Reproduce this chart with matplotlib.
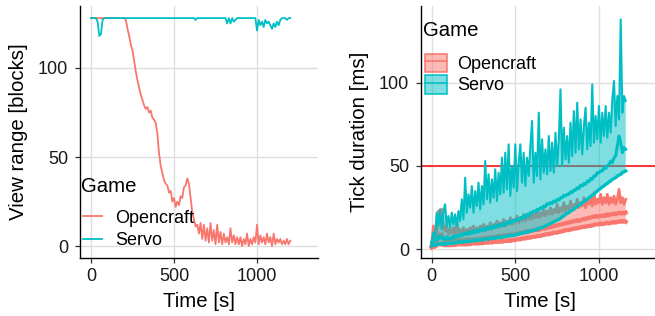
import numpy as np
import matplotlib
matplotlib.use("Agg")
import matplotlib.pyplot as plt
from matplotlib.lines import Line2D
from matplotlib.patches import Patch

plt.rcParams['font.family'] = ['Liberation Sans', 'DejaVu Sans']

games = ['Opencraft', 'Servo']
game_colors = ['#F8766D', '#00BFC4']

# ---------------- left panel: view range ----------------
time_left = np.arange(0, 1201, 10)
view_opencraft = [
    128, 128, 128, 128, 128, 128, 128, 128, 128, 128,
    128, 128, 128, 128, 128, 128, 128, 128, 128, 128,
    128, 127, 122, 118, 113, 110, 104, 98, 93, 89,
    85, 82, 79, 77, 78, 75, 76, 72, 71, 69,
    63, 52, 45, 41, 37, 35, 34, 30, 31, 25,
    27, 22, 25, 23, 28, 27, 33, 34, 38, 35,
    27, 19, 15, 11, 12, 7, 13, 4, 12, 3,
    10, 2, 13, 3, 9, 1, 12, 2, 8, 1,
    7, 2, 5, 1, 10, 2, 6, 1, 5, 1,
    5, 0, 4, 1, 7, 0, 4, 1, 5, 2,
    12, 1, 6, 2, 5, 1, 7, 2, 5, 0,
    7, 1, 4, 2, 4, 1, 3, 1, 4, 1,
    3,
]
view_servo = [
    128, 128, 128, 128, 126, 118, 119, 127, 128, 128,
    128, 128, 128, 128, 128, 128, 128, 128, 128, 128,
    128, 128, 128, 128, 128, 128, 128, 128, 128, 128,
    128, 128, 128, 128, 128, 128, 128, 128, 128, 128,
    128, 128, 128, 128, 128, 128, 128, 128, 128, 128,
    128, 128, 128, 128, 128, 128, 128, 128, 128, 128,
    128, 128, 128, 127, 128, 128, 128, 128, 128, 128,
    128, 128, 128, 128, 128, 128, 128, 128, 128, 128,
    128, 128, 125, 128, 125, 128, 126, 127, 128, 128,
    128, 128, 128, 128, 128, 128, 128, 128, 128, 128,
    121, 127, 124, 126, 123, 127, 125, 126, 124, 122,
    125, 123, 126, 124, 127, 128, 128, 128, 127, 128,
    128,
]

# ---------------- right panel: tick duration ----------------
time_right = np.arange(0, 1161, 10)
opencraft_low = [
    1, 2, 1.5, 2.5, 3, 3, 3, 2.5, 2.5, 2.5,
    2.5, 2.5, 2.5, 3, 2.5, 3, 3, 3, 3, 3,
    3, 3, 3.5, 3, 3.5, 3.5, 3.5, 3.5, 3.5, 4,
    3.5, 4, 4, 4, 4, 4.5, 4, 4.5, 4.5, 4.5,
    4.5, 5, 4.5, 5, 5, 5, 5.5, 5, 5.5, 5.5,
    5.5, 6, 6, 6, 6.5, 6.5, 6.5, 7, 7, 7,
    7.5, 7.5, 7.5, 8, 8, 8, 8.5, 8.5, 9, 9,
    9, 9.5, 9.5, 10, 10, 10, 10.5, 10.5, 11, 11,
    11.5, 11.5, 11.5, 12, 12, 12.5, 12.5, 12.5, 13, 13,
    13.5, 13.5, 13.5, 14, 14, 14, 14.5, 14.5, 15, 15,
    15, 15.5, 15, 15.5, 15.5, 16, 15.5, 16, 16, 16.5,
    16, 16.5, 16.5, 17, 16.5, 17, 16.5,
]
opencraft_median = [
    2, 5, 3, 6, 9, 8, 9, 6, 5, 5.5,
    4.5, 5, 4.5, 5, 4.5, 5.5, 5, 5.5, 5, 5.5,
    5.5, 6, 5.5, 6, 5.5, 6, 6, 6.5, 6, 6.5,
    6.5, 7, 6.5, 7, 7, 7.5, 7, 7.5, 7.5, 8,
    7.5, 8, 8, 8.5, 8, 8.5, 8.5, 9, 8.5, 9,
    9, 9.5, 9.5, 10, 10, 10.5, 10, 11, 10.5, 11,
    11, 11.5, 11.5, 12, 11.5, 12, 12.5, 12.5, 12.5, 13,
    13, 13.5, 13.5, 14, 14, 14.5, 14.5, 15, 15, 15.5,
    15.5, 16, 16, 16.5, 16.5, 17, 17, 17.5, 17, 17.5,
    18, 18, 18.5, 18.5, 19, 19, 19.5, 19.5, 20, 19.5,
    20, 20, 20, 20.5, 20, 21, 20.5, 21, 21, 21.5,
    21, 21.5, 22, 21.5, 22, 21.5, 22,
]
opencraft_high = [
    3, 14, 6, 12, 23, 18, 24, 15, 11, 14,
    9, 12, 10, 13, 9, 17, 10, 12, 9, 13,
    10, 12, 10, 13, 11, 14, 10, 13, 11, 14,
    12, 15, 11, 14, 12, 16, 12, 15, 13, 17,
    13, 16, 14, 18, 14, 17, 15, 19, 15, 18,
    16, 20, 16, 19, 17, 21, 17, 20, 18, 22,
    18, 21, 19, 23, 19, 22, 20, 24, 20, 23,
    21, 25, 21, 24, 22, 27, 22, 25, 23, 28,
    23, 26, 24, 29, 24, 27, 25, 30, 25, 28,
    26, 31, 25, 29, 27, 32, 26, 34, 27, 30,
    28, 33, 27, 31, 28, 33, 27, 31, 28, 32,
    27, 30, 36, 28, 31, 27, 30,
]
servo_low = [
    2, 2.5, 2.5, 3, 3, 3.5, 3, 3.5, 3, 3.5,
    3.5, 3.5, 4, 3.5, 4, 4, 4.5, 4, 4.5, 4.5,
    4.5, 5, 4.5, 5, 5, 5.5, 5, 5.5, 5.5, 6,
    5.5, 6, 6, 6.5, 6, 6.5, 6.5, 7, 6.5, 7,
    7, 7.5, 7, 7.5, 7.5, 8, 8, 8.5, 8, 8.5,
    8.5, 9, 9, 9.5, 9.5, 10, 10, 10.5, 10.5, 11,
    11, 11.5, 11.5, 12, 12.5, 13, 13, 13.5, 14, 14.5,
    15, 15.5, 16, 16.5, 17, 17.5, 18, 18.5, 19.5, 20,
    21, 21.5, 22, 23, 23.5, 24, 25, 25.5, 26.5, 27,
    28, 28.5, 29.5, 30, 31, 31.5, 32.5, 33, 34, 35,
    36, 36.5, 37.5, 38, 39, 39.5, 40.5, 41, 42, 42.5,
    43, 44, 44.5, 45, 46, 46.5, 47,
]
servo_median = [
    4, 5, 5.5, 7, 6, 8, 6.5, 7, 6, 7.5,
    6, 7, 6.5, 8, 7, 8.5, 7.5, 9, 8, 9.5,
    9, 10, 9, 10.5, 9.5, 11, 10, 11.5, 10.5, 12,
    11, 12.5, 11.5, 13, 12, 13.5, 12.5, 14, 13, 14.5,
    14, 15, 14, 15.5, 14.5, 16.5, 15.5, 17, 16, 17.5,
    17, 18, 17.5, 19, 18.5, 20, 19, 21, 20, 22,
    22, 23, 22.5, 24, 23.5, 25, 24.5, 26, 25.5, 27.5,
    27, 28, 27.5, 29, 28.5, 30, 29.5, 31, 31, 32.5,
    32, 33, 33, 34.5, 34, 35.5, 35.5, 37, 36.5, 38.5,
    38, 39.5, 39, 41, 40.5, 42.5, 42, 44, 44, 46,
    46, 47, 47, 49, 48.5, 50, 51, 53, 52, 55,
    56, 62, 68, 64, 58, 61, 60,
]
servo_high = [
    5, 10, 8, 22, 14, 24, 12, 23, 27, 14,
    20, 13, 22, 15, 21, 14, 23, 17, 30, 18,
    43, 22, 33, 25, 38, 22, 35, 26, 40, 24,
    38, 27, 53, 30, 45, 28, 42, 31, 48, 29,
    46, 33, 55, 34, 58, 36, 63, 32, 50, 37,
    63, 35, 52, 63, 40, 58, 38, 55, 44, 62,
    77, 40, 58, 44, 82, 42, 66, 46, 60, 45,
    68, 47, 64, 46, 70, 50, 66, 96, 50, 73,
    54, 68, 52, 76, 56, 83, 58, 88, 60, 78,
    57, 74, 85, 60, 76, 62, 99, 64, 80, 66,
    86, 64, 82, 68, 86, 67, 82, 70, 90, 101,
    74, 92, 78, 138, 82, 92, 89,
]
threshold_ms = 50

low_series = [opencraft_low, servo_low]
median_series = [opencraft_median, servo_median]
high_series = [opencraft_high, servo_high]
view_series = [view_opencraft, view_servo]

W, H = 655, 316
fig = plt.figure(figsize=(W / 100, H / 100), dpi=100)

def fx(px):
    return px / W

def fy(py):
    return 1 - py / H

axL = fig.add_axes([fx(80), fy(258), fx(318 - 80), (258 - 6) / H])
axR = fig.add_axes([fx(421), fy(258), fx(660 - 421), (258 - 6) / H])

TICK_FS = 13
TITLE_FS = 14.7
LEG_FS = 13
grid_col = '#DEDEDE'

for ax in (axL, axR):
    ax.set_facecolor('white')
    for s in ('top', 'right'):
        ax.spines[s].set_visible(False)
    for s in ('left', 'bottom'):
        ax.spines[s].set_color('black')
        ax.spines[s].set_linewidth(1.0)
    ax.grid(True, color=grid_col, linewidth=1.0)
    ax.set_axisbelow(True)
    ax.tick_params(axis='both', length=3.5, width=0.9, color='#333333',
                   labelsize=TICK_FS, labelcolor='#1a1a1a')
    ax.tick_params(axis='x', pad=4)
    ax.tick_params(axis='y', pad=5)
    ax.set_xticks([0, 500, 1000])
    ax.set_xlabel('Time [s]', fontsize=TITLE_FS, labelpad=5)

# left panel
axL.set_xlim(-66, 1367)
axL.set_ylim(-6.7, 134.8)
axL.set_yticks([0, 50, 100])
for g, c, v in zip(games, game_colors, view_series):
    axL.plot(time_left, v, color=c, linewidth=1.3, label=g)
axL.set_ylabel('View range [blocks]', fontsize=TITLE_FS, labelpad=7)

fig.text(fx(81), fy(186), 'Game', fontsize=TITLE_FS, ha='left', va='center')
hL = [Line2D([], [], color=c, linewidth=1.3) for c in game_colors]
legL = axL.legend(hL, games, loc='center left',
                  bbox_to_anchor=(fx(83), fy(229.5)), bbox_transform=fig.transFigure,
                  frameon=False, borderpad=0, borderaxespad=0,
                  handlelength=1.05, handletextpad=0.72, labelspacing=0.3,
                  fontsize=LEG_FS)

# right panel
axR.set_xlim(-64, 1365)
axR.set_ylim(-5.2, 146)
axR.set_yticks([0, 50, 100])
axR.axhline(threshold_ms, color='#FF0000', linewidth=1.1, zorder=1.5)
widths = {'Opencraft': (3.0, 3.0, 2.0), 'Servo': (2.4, 2.2, 1.5)}
for g, c, lo, md, hi in zip(games, game_colors, low_series, median_series, high_series):
    w_lo, w_md, w_hi = widths[g]
    axR.fill_between(time_right, lo, hi, facecolor=c, alpha=0.5, linewidth=0, zorder=2)
    axR.plot(time_right, lo, color=c, linewidth=w_lo, zorder=2)
    axR.plot(time_right, hi, color=c, linewidth=w_hi, zorder=2)
    axR.plot(time_right, md, color=c, linewidth=w_md, zorder=2)
axR.set_ylabel('Tick duration [ms]', fontsize=TITLE_FS, labelpad=7)

fig.text(fx(423), fy(30), 'Game', fontsize=TITLE_FS, ha='left', va='center')
hR = [(Patch(facecolor=c, alpha=0.5, edgecolor='none'),
       Patch(facecolor='none', edgecolor=c, linewidth=1.1),
       Line2D([], [], color=c, linewidth=1.1)) for c in game_colors]
legR = axR.legend(hR, games, loc='center left',
                  bbox_to_anchor=(fx(425), fy(74)), bbox_transform=fig.transFigure,
                  frameon=False, borderpad=0, borderaxespad=0,
                  handlelength=1.2, handleheight=1.2, handletextpad=0.6,
                  labelspacing=0.12, fontsize=LEG_FS)

fig.savefig('out.png', dpi=100)
